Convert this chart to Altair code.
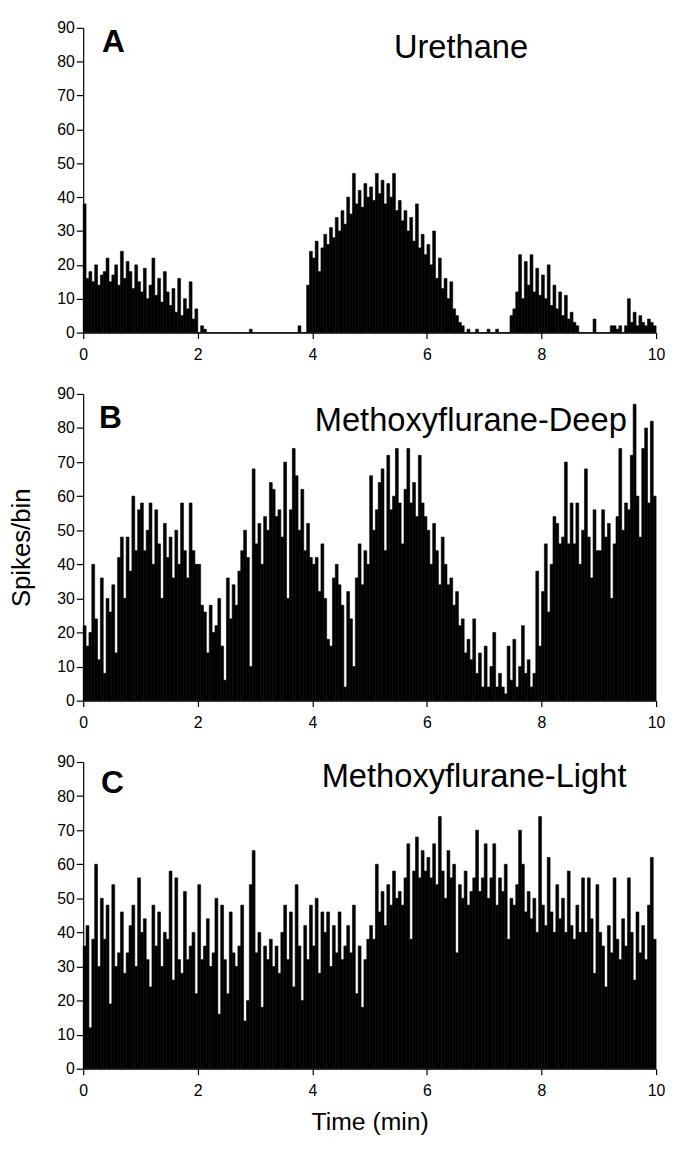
import altair as alt
import pandas as pd

# ---------------- data (spikes per bin, 3-s bins = 0.05 min) ----------------
BIN_MIN = 0.05

urethane_counts = [
    38, 16, 18, 15, 20, 14, 17, 18, 22, 15,
    17, 20, 14, 24, 16, 21, 18, 13, 20, 15,
    12, 19, 10, 14, 22, 11, 16, 9, 18, 12,
    8, 13, 6, 16, 5, 10, 7, 15, 4, 7,
    0, 2, 1, 0, 0, 0, 0, 0, 0, 0,
    0, 0, 0, 0, 0, 0, 0, 0, 1, 0,
    0, 0, 0, 0, 0, 0, 0, 0, 0, 0,
    0, 0, 0, 0, 0, 2, 0, 0, 14, 24,
    22, 27, 18, 25, 29, 26, 31, 28, 34, 30,
    36, 32, 40, 35, 47, 38, 42, 37, 44, 40,
    43, 39, 47, 41, 45, 38, 44, 40, 47, 36,
    39, 33, 36, 30, 34, 27, 38, 25, 29, 23,
    26, 20, 30, 16, 22, 13, 16, 10, 15, 7,
    5, 3, 2, 0, 1, 0, 0, 1, 0, 0,
    0, 1, 0, 0, 1, 0, 0, 0, 0, 5,
    7, 12, 23, 10, 21, 14, 23, 12, 19, 11,
    17, 10, 20, 8, 14, 7, 12, 5, 11, 4,
    6, 3, 2, 0, 0, 0, 0, 0, 4, 0,
    0, 0, 0, 0, 2, 2, 1, 2, 0, 2,
    10, 3, 6, 2, 5, 3, 2, 4, 3, 2,
]

deep_counts = [
    22, 16, 20, 40, 24, 12, 36, 8, 30, 26,
    34, 14, 42, 48, 30, 48, 38, 60, 44, 56,
    58, 44, 50, 58, 40, 56, 46, 30, 52, 42,
    48, 36, 50, 40, 58, 44, 36, 58, 44, 40,
    40, 28, 26, 14, 28, 20, 22, 30, 16, 6,
    36, 24, 34, 28, 38, 44, 50, 42, 10, 68,
    46, 52, 40, 54, 50, 64, 62, 54, 56, 48,
    70, 30, 56, 74, 66, 50, 62, 44, 52, 42,
    40, 42, 32, 46, 30, 18, 16, 36, 40, 34,
    28, 4, 32, 24, 10, 36, 46, 34, 44, 40,
    66, 50, 56, 64, 68, 44, 72, 56, 60, 74,
    58, 46, 62, 74, 58, 64, 54, 72, 58, 54,
    50, 40, 52, 44, 34, 48, 40, 34, 36, 28,
    32, 22, 24, 14, 18, 12, 24, 8, 14, 4,
    16, 4, 10, 20, 4, 8, 4, 2, 16, 6,
    18, 4, 10, 22, 8, 12, 4, 8, 38, 16,
    32, 46, 26, 40, 54, 52, 46, 48, 70, 46,
    58, 46, 58, 40, 50, 68, 48, 36, 56, 44,
    44, 56, 48, 52, 30, 46, 54, 74, 50, 58,
    56, 72, 87, 60, 48, 74, 80, 58, 82, 60,
]

light_counts = [
    36, 42, 12, 38, 60, 30, 50, 38, 48, 19,
    54, 30, 34, 46, 28, 34, 42, 48, 30, 56,
    40, 44, 32, 24, 48, 36, 46, 30, 40, 38,
    58, 26, 56, 32, 28, 52, 32, 36, 40, 22,
    54, 32, 36, 44, 30, 34, 50, 16, 48, 32,
    22, 46, 34, 30, 36, 48, 14, 20, 54, 64,
    34, 40, 18, 36, 32, 38, 30, 36, 28, 40,
    48, 32, 46, 24, 54, 36, 20, 42, 32, 48,
    36, 50, 28, 46, 40, 46, 30, 42, 34, 46,
    32, 36, 42, 34, 48, 22, 36, 18, 32, 38,
    42, 38, 60, 46, 52, 42, 54, 48, 58, 50,
    52, 48, 56, 66, 38, 58, 68, 56, 64, 58,
    62, 56, 66, 54, 74, 58, 50, 64, 56, 60,
    34, 54, 50, 58, 48, 52, 56, 70, 52, 56,
    66, 50, 56, 66, 48, 56, 52, 60, 38, 50,
    48, 54, 70, 60, 46, 52, 44, 50, 40, 74,
    48, 42, 62, 46, 40, 54, 44, 50, 40, 58,
    42, 38, 48, 40, 56, 40, 56, 44, 28, 54,
    40, 36, 24, 42, 34, 56, 38, 32, 44, 36,
    56, 40, 26, 46, 34, 42, 32, 48, 62, 38,
]

panel_letters = ["A", "B", "C"]
panel_names = ["Urethane", "Methoxyflurane-Deep", "Methoxyflurane-Light"]
x_ticks = [0, 2, 4, 6, 8, 10]
y_ticks = [0, 10, 20, 30, 40, 50, 60, 70, 80, 90]

FONT = "Liberation Sans"
W = 579


def make_panel(counts, letter, name, height, letter_pos, name_pos,
               y_title=None, x_title=None):
    df = pd.DataFrame({
        "t0": [i * BIN_MIN for i in range(len(counts))],
        "t1": [(i + 1) * BIN_MIN for i in range(len(counts))],
        "count": counts,
        "base": [0] * len(counts),
    })
    x_axis_kw = dict(values=x_ticks, grid=False, labelFlush=False,
                     tickSize=6, labelPadding=8, format="d")
    if x_title:
        x_axis_kw.update(title=x_title, titleFontSize=25, titlePadding=11,
                         titleFontWeight="normal", titleFont=FONT)
    else:
        x_axis_kw.update(title=None)
    y_axis_kw = dict(values=y_ticks, grid=False, tickSize=7, labelPadding=2)
    if y_title:
        y_axis_kw.update(title=y_title, titleFontSize=26, titlePadding=22,
                         titleFontWeight="normal", titleFont=FONT)
    else:
        y_axis_kw.update(title=None)

    bars = alt.Chart(df).mark_rect(color="black", stroke="black",
                                   strokeWidth=0.6).encode(
        x=alt.X("t0:Q", scale=alt.Scale(domain=[0, 10], nice=False, zero=False),
                axis=alt.Axis(**x_axis_kw)),
        x2="t1:Q",
        y=alt.Y("count:Q", scale=alt.Scale(domain=[0, 90], nice=False),
                axis=alt.Axis(**y_axis_kw)),
        y2="base:Q",
    )
    letter_txt = alt.Chart(pd.DataFrame({"s": [letter]})).mark_text(
        font=FONT, fontSize=32, fontWeight="bold", align="left",
        baseline="alphabetic", color="black"
    ).encode(x=alt.value(letter_pos[0]), y=alt.value(letter_pos[1]), text="s:N")
    name_txt = alt.Chart(pd.DataFrame({"s": [name]})).mark_text(
        font=FONT, fontSize=33, align="left", baseline="alphabetic", color="black"
    ).encode(x=alt.value(name_pos[0]), y=alt.value(name_pos[1]), text="s:N")
    return alt.layer(bars, letter_txt, name_txt).properties(width=W, height=height)


pA = make_panel(urethane_counts, panel_letters[0], panel_names[0], 308,
                (19, 24), (314, 30))
pB = make_panel(deep_counts, panel_letters[1], panel_names[1], 310,
                (16, 34), (234, 37), y_title="Spikes/bin")
pC = make_panel(light_counts, panel_letters[2], panel_names[2], 310,
                (18, 31), (241, 25), x_title="Time (min)")

chart = alt.vconcat(pA, pB, pC, spacing=62, bounds="flush").properties(
    padding={"left": 1, "top": 6, "right": 0, "bottom": 0}
).configure_axis(
    labelFont=FONT, labelFontSize=16, labelColor="black",
    tickColor="black", domainColor="black", domainWidth=1.2, tickWidth=1.2,
    titleColor="black",
).configure_view(strokeWidth=0)

chart.save("out.html", embed_options={"renderer": "svg", "actions": False})
